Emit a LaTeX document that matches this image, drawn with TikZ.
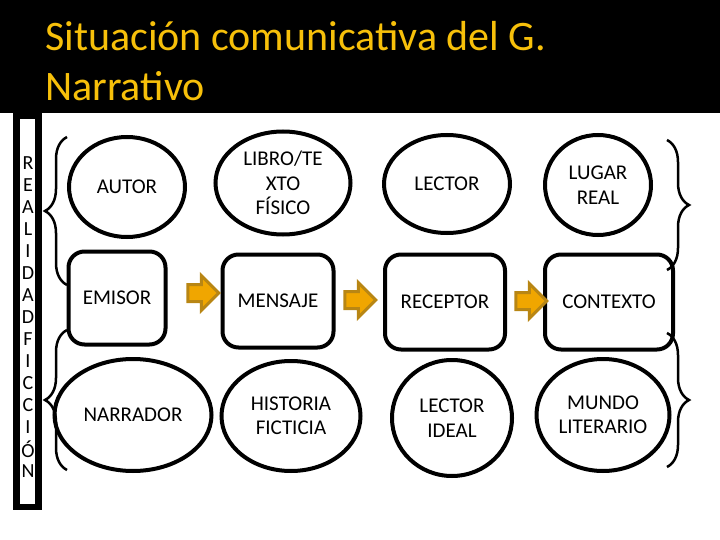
\documentclass[tikz,border=0pt]{standalone}
\usepackage{fontspec}
\setmainfont{Carlito}
\usetikzlibrary{shapes.geometric,shapes.arrows,decorations.pathreplacing}
\definecolor{titlegold}{RGB}{247,192,10}
\definecolor{arrowfill}{RGB}{240,166,0}
\definecolor{arrowedge}{RGB}{184,134,20}

\begin{document}
\begin{tikzpicture}[x=1pt,y=-1pt,
  oval/.style={draw,ellipse,line width=4pt,inner sep=0pt,align=center,
    font=\fontsize{21}{24.5}\selectfont},
  box/.style={draw,rectangle,rounded corners=16pt,line width=4pt,inner sep=0pt,
    align=center,font=\fontsize{21}{24.5}\selectfont},
  flow/.style={single arrow,fill=arrowfill,draw=arrowedge,line width=3pt,
    inner xsep=0pt,inner ysep=7pt,minimum height=31pt,single arrow head extend=9pt},
  curly/.style={decorate,decoration={brace,amplitude=22pt},line width=2.5pt}]
\useasboundingbox (0,0) rectangle (720,540);

% Title band
\fill[black] (0,0) rectangle (720,113);
\node[anchor=north west,inner sep=0pt,align=left,text=titlegold,
  font=\fontsize{42}{50}\selectfont] (title) at (45,21)
  {Situación comunicativa del G.\\Narrativo};

% Vertical word on the left
\draw[line width=6.5pt] (16.5,116) rectangle (38.5,507);
\foreach \ch [count=\i] in {R,E,A,L,I,D,A,D,F,I,C,C,I,Ó,N}
  \node[font=\fontsize{20}{20}\selectfont] (v\i) at (28,{141+22*\i}) {\ch};

% Top row
\node[oval,minimum width=116pt,minimum height=100pt] (autor) at (127,187) {AUTOR};
\node[oval,minimum width=135pt,minimum height=103pt] (libro) at (283,183) {LIBRO/TE\\XTO\\FÍSICO};
\node[oval,minimum width=126pt,minimum height=98pt] (lector) at (447,184) {LECTOR};
\node[oval,minimum width=106pt,minimum height=100pt] (lugar) at (598,185) {LUGAR\\REAL};

% Middle row
\node[box,minimum width=97pt,minimum height=93pt] (emisor) at (117,298) {EMISOR};
\node[box,minimum width=111pt,minimum height=93pt] (mensaje) at (278,301) {MENSAJE};
\node[box,minimum width=120pt,minimum height=95pt] (receptor) at (445,302) {RECEPTOR};
\node[box,minimum width=128pt,minimum height=95pt] (contexto) at (609,302) {CONTEXTO};

% Arrows between the boxes
\node[flow] (arr1) at (199,293) {};
\node[flow] (arr2) at (356,300) {};
\node[flow] (arr3) at (527,301) {};

% Bottom row
\node[oval,minimum width=157pt,minimum height=112pt] (narrador) at (133,415) {NARRADOR};
\node[oval,minimum width=139pt,minimum height=110pt] (historia) at (291,416) {HISTORIA\\FICTICIA};
\node[oval,minimum width=120pt,minimum height=116pt] (ideal) at (452,418) {LECTOR\\IDEAL};
\node[oval,minimum width=133pt,minimum height=112pt] (mundo) at (603,415) {MUNDO\\LITERARIO};

% Braces
\draw[curly] (67,285) -- (67,137);
\draw[curly] (67,470) -- (67,330);
\draw[curly] (667,140) -- (667,270);
\draw[curly] (667,333) -- (667,467);
\end{tikzpicture}
\end{document}
